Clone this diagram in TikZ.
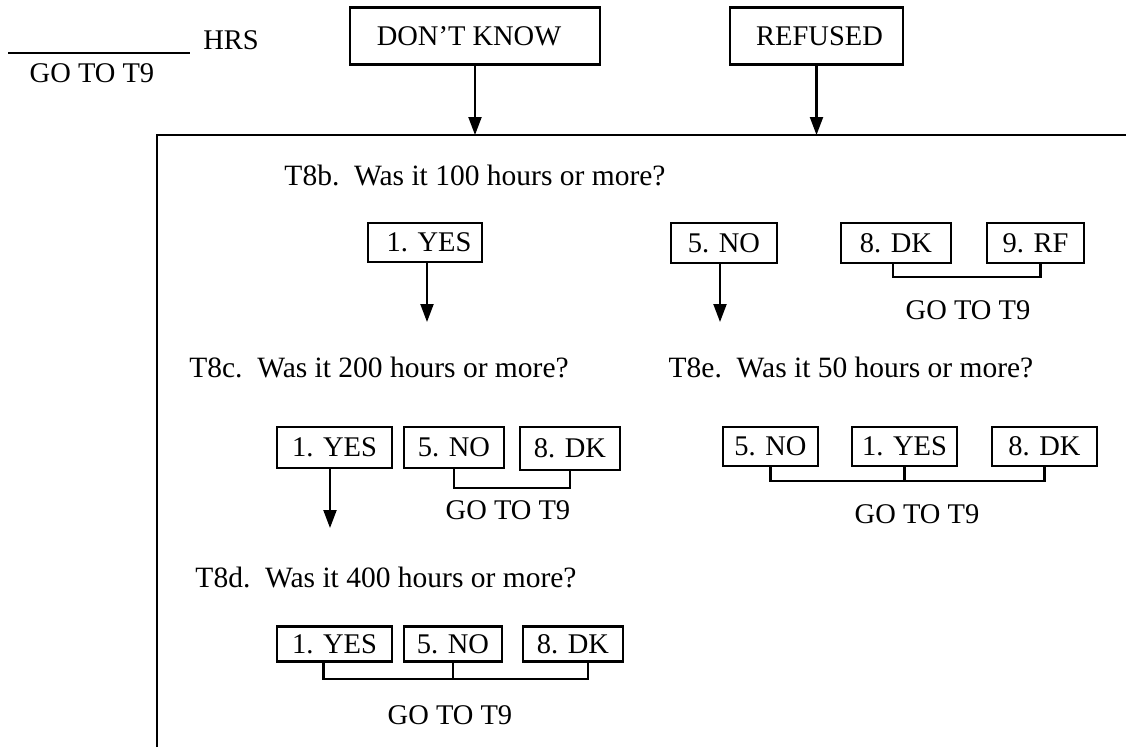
\documentclass[tikz,border=0pt]{standalone}
\usepackage{fontspec}
\setmainfont{Liberation Serif}
\usetikzlibrary{arrows.meta}
\begin{document}
\begin{tikzpicture}[x=1pt,y=-1pt,
  every node/.style={font=\fontsize{28.5}{34}\selectfont},
  lbl/.style={inner sep=0pt, anchor=center},
  qtext/.style={inner sep=0pt, anchor=center, font=\fontsize{29.5}{35}\selectfont},
  optbox/.style={draw, line width=2.1pt, inner sep=0pt, minimum height=40pt},
  conn/.style={line width=2.1pt},
  arr/.style={line width=2.1pt, -{Triangle[length=18pt,width=13pt]}}]
\useasboundingbox (0,0) rectangle (1126,747);
% top row
\coordinate (blankL) at (8,53);
\coordinate (blankR) at (190,53);
\draw[conn] (blankL) -- (blankR);
\node[lbl] (hrs) at (231,40) {HRS};
\node[lbl] (goto0) at (92,73) {GO TO T9};
\node[optbox, minimum width=250pt, minimum height=57pt] (dk) at (475,36) {\hspace*{-12pt}DON'T KNOW};
\node[optbox, minimum width=173pt, minimum height=57pt] (rf) at (816.5,36) {\hspace*{6pt}REFUSED};
% frame
\coordinate (frameBL) at (157,747);
\coordinate (frameTL) at (157,135);
\coordinate (frameTR) at (1126,135);
\draw[conn] (frameBL) -- (frameTL) -- (frameTR);
\draw[arr] (dk.south) -- (dk.south |- frameTL);
\draw[arr] (rf.south) -- (rf.south |- frameTL);
% T8b
\node[qtext] (qb) at (475,175) {T8b.~~Was it 100 hours or more?};
\node[optbox, minimum width=114pt, minimum height=39pt] (byes) at (425,242.5) {\hspace*{8pt}1. YES};
\node[optbox, minimum width=106pt] (bno) at (724,243) {5. NO};
\node[optbox, minimum width=110pt] (bdk) at (896,243) {8. DK};
\node[optbox, minimum width=97pt] (brf) at (1035.5,243) {9. RF};
\coordinate (byesEnd) at (427,322);
\coordinate (bnoEnd) at (720,322);
\draw[arr] (byes.south -| byesEnd) -- (byesEnd);
\draw[arr] (bno.south -| bnoEnd) -- (bnoEnd);
\draw[conn] ([xshift=-3pt]bdk.south) -- ++(0,13) -| ([xshift=5pt]brf.south);
\node[lbl] (gotob) at (968,310) {GO TO T9};
% T8c
\node[qtext] (qc) at (379,367) {T8c.~~Was it 200 hours or more?};
\node[optbox, minimum width=115pt, minimum height=41pt] (cyes) at (334.5,447.5) {1. YES};
\node[optbox, minimum width=100pt, minimum height=41pt] (cno) at (454,447.5) {5. NO};
\node[optbox, minimum width=100pt, minimum height=43pt] (cdk) at (570,448.5) {8. DK};
\coordinate (cyesEnd) at (330,528);
\draw[arr] (cyes.south -| cyesEnd) -- (cyesEnd);
\draw[conn] (cno.south) -- (454,488) -| (cdk.south);
\node[lbl] (gotoc) at (508,510) {GO TO T9};
% T8e
\node[qtext] (qe) at (851,367) {T8e.~~Was it 50 hours or more?};
\node[optbox, minimum width=95pt, minimum height=39pt] (eno) at (770.5,446.5) {5. NO};
\node[optbox, minimum width=105pt, minimum height=39pt] (eyes) at (904.5,446.5) {1. YES};
\node[optbox, minimum width=105pt, minimum height=39pt] (edk) at (1044.5,446.5) {8. DK};
\draw[conn] (eno.south) -- (770.5,481) -| (edk.south);
\draw[conn] (eyes.south) -- (904.5,481);
\node[lbl] (gotoe) at (917,514) {GO TO T9};
% T8d
\node[qtext] (qd) at (386,577) {T8d.~~Was it 400 hours or more?};
\node[optbox, minimum width=115pt, minimum height=35pt] (dyes) at (334.5,644) {1. YES};
\node[optbox, minimum width=98pt, minimum height=35pt] (dno) at (453,644) {5. NO};
\node[optbox, minimum width=100pt, minimum height=35pt] (ddk) at (573,644) {8. DK};
\draw[conn] ([xshift=-11pt]dyes.south) -- ++(0,16) -| ([xshift=15pt]ddk.south);
\draw[conn] (dno.south) -- ++(0,16);
\node[lbl] (gotod) at (450,715) {GO TO T9};
\end{tikzpicture}
\end{document}
